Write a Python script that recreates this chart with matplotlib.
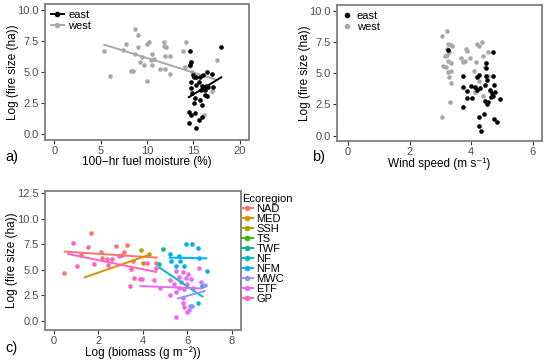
import numpy as np
import matplotlib
matplotlib.use("Agg")
import matplotlib.pyplot as plt
from matplotlib.lines import Line2D

plt.rcParams['font.family'] = ['Liberation Sans', 'DejaVu Sans']

# panel a: fuel moisture vs log fire size
west_fm = [5.4, 6.0, 7.4, 7.7, 8.7, 9.0, 9.0, 8.3, 8.5, 8.7, 9.2, 9.5, 9.7, 10.0, 10.2,
           10.0, 10.4, 10.5, 10.7, 10.5, 11.4, 11.8, 11.8, 12.0, 11.9, 11.9, 12.5, 12.5,
           13.9, 14.2, 14.1, 14.6, 14.7, 17.5, 17.0, 16.1, 14.9]
west_fs_a = [6.7, 4.7, 6.8, 7.3, 8.5, 8.0, 7.0, 5.1, 5.1, 6.5, 5.8, 6.2, 5.6, 7.3, 7.4,
             4.3, 6.0, 6.5, 6.1, 5.6, 5.3, 7.4, 7.1, 7.0, 5.3, 6.3, 6.3, 4.9,
             6.7, 7.4, 5.4, 5.5, 5.8, 6.0, 3.5, 1.6, 5.0]
east_fm = [14.6, 14.7, 14.6, 18.0, 14.7, 15.0, 15.1, 14.7, 14.9, 15.2, 15.1, 14.5, 14.7,
           14.5, 15.2, 15.3, 15.6, 15.9, 15.3, 15.6, 15.8, 15.9, 16.1, 16.2, 16.4, 16.6,
           16.3, 16.5, 16.0, 16.5, 17.0, 17.1, 15.7, 15.9, 15.3, 15.7]
east_fs_a = [6.7, 5.8, 5.6, 7.0, 4.2, 4.8, 4.6, 3.7, 3.3, 2.9, 2.5, 1.8, 1.6,
             0.9, 1.7, 0.5, 1.2, 1.4, 4.0, 4.2, 3.6, 3.9, 3.8, 3.6, 3.9, 3.8,
             3.2, 3.1, 4.8, 5.0, 4.9, 3.8, 2.8, 2.4, 4.6, 4.6]
# fitted lines (slope, intercept)
west_fit = (-0.233, 8.48)
east_fit = (0.457, -3.63)

# panel b: wind speed vs log fire size
west_ws = [3.06, 3.22, 3.25, 3.33, 3.38, 3.20, 3.15, 3.22, 3.29, 3.25, 3.36, 3.09, 3.17,
           3.25, 3.34, 3.29, 3.34, 3.31, 3.04, 3.68, 3.72, 3.83, 3.87, 3.96, 3.80, 4.09,
           4.15, 4.19, 4.25, 4.36, 4.38, 4.55, 4.44, 4.25, 4.14, 4.60, 4.40, 4.55, 4.12]
west_fs_b = [8.0, 8.4, 7.4, 7.3, 7.2, 7.0, 6.4, 6.5, 6.7, 6.0, 5.8, 5.6, 5.5,
             5.1, 5.2, 4.7, 4.2, 2.7, 1.5, 6.2, 5.9, 7.0, 6.8, 6.2, 6.0, 5.2,
             5.9, 7.4, 7.2, 7.5, 6.4, 6.7, 5.5, 4.4, 3.5, 3.6, 3.2, 4.8, 3.8]
east_ws = [3.25, 3.72, 3.72, 3.85, 3.88, 4.03, 3.75, 4.01, 4.12, 4.19, 4.25, 4.20, 4.28,
           4.49, 4.47, 4.47, 4.52, 4.46, 4.45, 4.52, 4.55, 4.71, 4.71, 4.74, 4.62, 4.68,
           4.71, 4.65, 4.79, 4.95, 4.74, 4.84, 4.26, 4.26, 4.32, 4.43]
east_fs_b = [6.9, 4.8, 3.9, 3.6, 3.0, 3.0, 2.3, 4.0, 3.9, 3.7, 4.9, 4.7, 3.8,
             5.8, 5.4, 4.8, 4.5, 4.1, 2.8, 2.5, 2.7, 6.7, 4.8, 4.1, 3.7, 3.4,
             3.2, 3.1, 3.5, 2.9, 1.3, 1.1, 1.5, 0.8, 0.4, 1.7]

# panel c: biomass vs log fire size by ecoregion
eco_names = ['NAD', 'MED', 'SSH', 'TS', 'TWF', 'NF', 'NFM', 'MWC', 'ETF', 'GP']
eco_colors = ['#F8766D', '#D89000', '#A3A500', '#39B600', '#00BF7D',
              '#00BFC4', '#00B0F6', '#9590FF', '#E76BF3', '#FF62BC']
bio = {
    'NAD': [0.46, 1.65, 2.17, 2.11, 2.77, 3.29, 3.14, 3.56, 4.60, 3.88],
    'MED': [4.28, 3.99],
    'SSH': [3.92],
    'TS': [],
    'TWF': [4.89],
    'NF': [4.72, 6.67, 6.47],
    'NFM': [5.23, 5.61, 5.26, 5.65, 5.95, 6.19, 6.47, 6.52, 5.50, 5.83, 6.88],
    'MWC': [6.79, 6.10, 6.22],
    'ETF': [5.50, 5.80, 6.04, 6.17, 6.52, 4.48, 5.20, 5.62, 5.92, 5.72, 5.38, 5.98,
            6.62, 5.62, 5.87, 6.25, 5.20, 5.47, 5.80, 5.80, 5.84, 6.07, 5.98, 5.47,
            4.78, 3.95],
    'GP': [0.87, 1.06, 1.24, 1.55, 1.81, 2.39, 2.59, 2.45, 3.04, 2.93, 3.45, 3.41,
           3.62, 4.19, 4.60],
}
fsize = {
    'NAD': [4.71, 8.57, 6.18, 6.74, 7.36, 7.43, 6.77, 5.89, 5.63, 4.12],
    'MED': [6.51, 5.69],
    'SSH': [6.94],
    'TS': [],
    'TWF': [7.07],
    'NF': [5.56, 3.40, 1.73],
    'NFM': [6.54, 6.38, 5.89, 5.89, 7.49, 7.53, 7.10, 6.12, 5.37, 5.37, 4.88],
    'MWC': [3.50, 1.47, 1.47],
    'ETF': [4.88, 4.81, 4.55, 4.09, 5.14, 3.99, 3.99, 4.32, 4.16, 3.83, 3.57, 3.57,
            3.83, 3.17, 3.11, 3.17, 2.52, 2.78, 2.19, 1.70, 1.37, 1.05, 0.82, 0.39,
            3.17, 4.06],
    'GP': [7.59, 5.37, 6.45, 7.23, 5.56, 6.05, 6.05, 5.46, 6.41, 6.38, 5.07, 3.44,
           4.16, 5.63, 5.14],
}
# fitted line ends per ecoregion: (x0, y0, x1, y1)
fits = {
    'NAD': (0.49, 6.77, 4.63, 6.18),
    'MED': (1.39, 4.25, 4.34, 6.51),
    'NF': (4.75, 5.20, 6.67, 2.38),
    'NFM': (5.20, 6.18, 6.85, 6.12),
    'MWC': (5.58, 2.19, 6.77, 2.91),
    'ETF': (3.90, 3.40, 6.65, 3.17),
    'GP': (0.64, 6.54, 4.60, 4.78),
}

GRAY = '#A8A8A8'
TICK = '#4D4D4D'
PT = 11


def style(ax, lx):
    for s in ax.spines.values():
        s.set_color('#7F7F7F')
        s.set_linewidth(1.3)
    ax.tick_params(direction='out', length=3, width=0.8, color='#333333',
                   labelsize=8, labelcolor=TICK, pad=1.5)
    ax.set_ylabel('Log (fire size (ha))', fontsize=8.5)
    ax.yaxis.set_label_coords(lx, 0.5)


fig = plt.figure(figsize=(5.5, 3.6), dpi=100)

# a)
ax = fig.add_axes([0.0818, 0.611, 0.371, 0.378])
ax.scatter(west_fm, west_fs_a, s=PT, color=GRAY, lw=0, zorder=2)
ax.scatter(east_fm, east_fs_a, s=PT, color='black', lw=0, zorder=3)
xw = np.array([min(west_fm), max(west_fm)])
ax.plot(xw, west_fit[0] * xw + west_fit[1], color=GRAY, lw=1.4, zorder=2)
xe = np.array([min(east_fm), max(east_fm)])
ax.plot(xe, east_fit[0] * xe + east_fit[1], color='black', lw=1.4, zorder=3)
ax.set_xlim(-1, 21)
ax.set_ylim(-0.45, 10.5)
ax.set_xticks([0, 5, 10, 15, 20])
ax.set_yticks([0, 2.5, 5, 7.5, 10])
ax.set_yticklabels(['0.0', '2.5', '5.0', '7.5', '10.0'])
ax.set_xlabel('100\u2212hr fuel moisture (%)', fontsize=8.5, labelpad=0)
style(ax, -0.125)
h = [Line2D([], [], color='black', marker='o', ms=3, lw=1.4),
     Line2D([], [], color=GRAY, marker='o', ms=3, lw=1.4)]
ax.legend(h, ['east', 'west'], loc='upper left', frameon=False, fontsize=8,
          handlelength=1.2, handletextpad=0.4, borderaxespad=0.1, labelspacing=0.1)

# b)
bx = fig.add_axes([0.6127, 0.608, 0.3727, 0.378])
bx.scatter(west_ws, west_fs_b, s=PT, color=GRAY, lw=0, zorder=2)
bx.scatter(east_ws, east_fs_b, s=PT, color='black', lw=0, zorder=3)
bx.set_xlim(-0.36, 6.3)
bx.set_ylim(-0.45, 10.5)
bx.set_xticks([0, 2, 4, 6])
bx.set_yticks([0, 2.5, 5, 7.5, 10])
bx.set_yticklabels(['0.0', '2.5', '5.0', '7.5', '10.0'])
bx.set_xlabel('Wind speed (m s\u207b\u00b9)', fontsize=8.5, labelpad=0)
style(bx, -0.125)
h = [Line2D([], [], color='black', marker='o', ms=3, lw=0),
     Line2D([], [], color=GRAY, marker='o', ms=3, lw=0)]
bx.legend(h, ['east', 'west'], loc='upper left', frameon=False, fontsize=8,
          handlelength=0.8, handletextpad=0.5, borderaxespad=0.1, labelspacing=0.1)

# c)
cx = fig.add_axes([0.0818, 0.0833, 0.356, 0.386])
for name, col in zip(eco_names, eco_colors):
    if bio[name]:
        cx.scatter(bio[name], fsize[name], s=PT, color=col, lw=0, zorder=2)
    if name in fits:
        x0, y0, x1, y1 = fits[name]
        cx.plot([x0, x1], [y0, y1], color=col, lw=1.4, zorder=3)
cx.set_xlim(-0.4, 8.4)
cx.set_ylim(-0.9, 12.7)
cx.set_xticks([0, 2, 4, 6, 8])
cx.set_yticks([0, 2.5, 5, 7.5, 10, 12.5])
cx.set_yticklabels(['0.0', '2.5', '5.0', '7.5', '10.0', '12.5'])
cx.set_xlabel('Log (biomass (g m\u207b\u00b2))', fontsize=8.5, labelpad=0)
style(cx, -0.14)
h = [Line2D([], [], color=c, marker='o', ms=3, lw=1.4) for c in eco_colors]
leg = cx.legend(h, eco_names, title='Ecoregion', loc='upper left',
                bbox_to_anchor=(1.0, 0.99), frameon=False, fontsize=8,
                title_fontsize=8, handlelength=1.0, handletextpad=0.3,
                labelspacing=0.0, borderaxespad=0.0, borderpad=0.1)
leg._legend_box.align = 'left'

fig.text(0.009, 0.565, 'a)', fontsize=10.5, va='center')
fig.text(0.567, 0.565, 'b)', fontsize=10.5, va='center')
fig.text(0.009, 0.033, 'c)', fontsize=10.5, va='center')

fig.savefig('out.png', dpi=100)
